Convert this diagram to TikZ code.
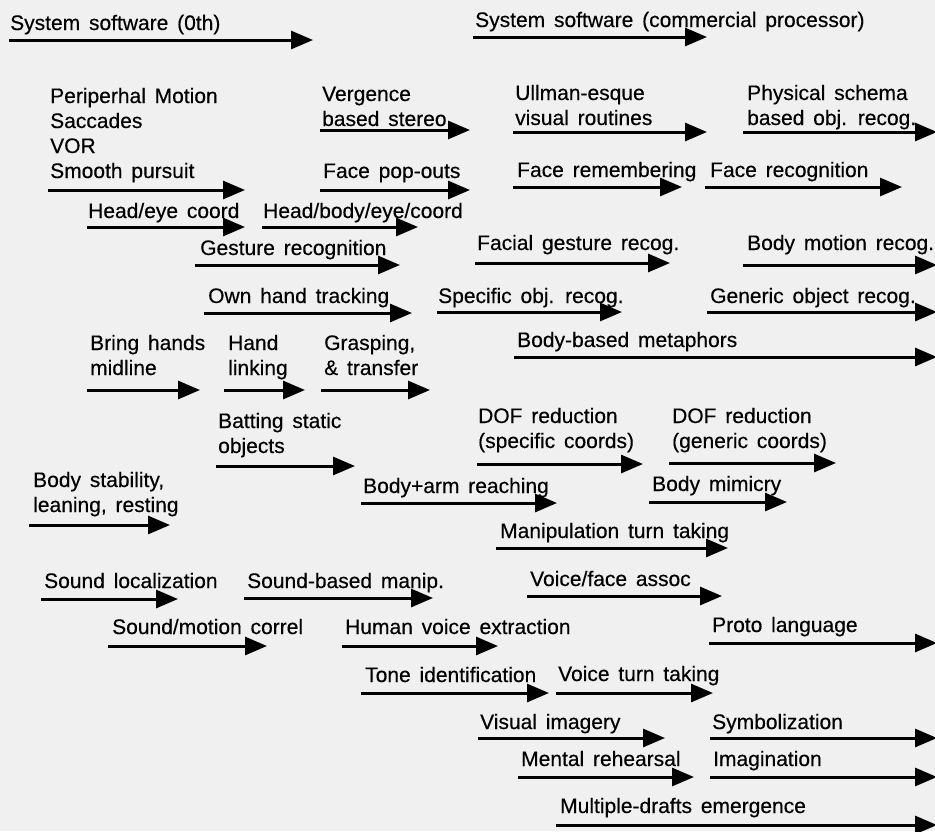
\documentclass[tikz,border=0pt]{standalone}
\usepackage{fontspec}
\setmainfont{Liberation Sans}
\usetikzlibrary{arrows.meta,positioning}
\newcommand{\lblfont}{\fontsize{21}{25}\selectfont\addfontfeatures{FakeBold=0.35}\spaceskip=0.42em plus 0.1em\relax}

\begin{document}
\begin{tikzpicture}[x=1pt, y=-1pt, >={Triangle[length=22pt,width=18pt]}]
    \tikzstyle{lbl} = [anchor=base west, inner sep=0pt, align=left, text=black, font=\lblfont]
    \tikzstyle{flow} = [->, line width=3pt, draw=black]

    % page and scanned paper
    \fill[black!6] (0,0) rectangle (935,831);
    \useasboundingbox (0,0) rectangle (935,831);

    % system software
    \node [lbl] (sys0) at (10,30) {System software (0th)};
    \coordinate (sys0-s) at (9,40); \coordinate (sys0-e) at (313,40);
    \node [lbl] (syscom) at (475,27) {System software (commercial processor)};
    \coordinate (syscom-s) at (473,37); \coordinate (syscom-e) at (707,37);

    % vision
    \node [lbl] (periph) at (50,178) {Periperhal Motion\\Saccades\\VOR\\Smooth pursuit};
    \coordinate (periph-s) at (48,190); \coordinate (periph-e) at (245,190);
    \node [lbl] (verg) at (322,126) {Vergence\\based stereo};
    \coordinate (verg-s) at (320,130); \coordinate (verg-e) at (470,130);
    \node [lbl] (ullman) at (515,125) {Ullman-esque\\visual routines};
    \coordinate (ullman-s) at (513,132); \coordinate (ullman-e) at (707,132);
    \node [lbl] (schema) at (747,125) {Physical schema\\based obj. recog.};
    \coordinate (schema-s) at (743,132); \coordinate (schema-e) at (937,132);
    \node [lbl] (popout) at (323,178) {Face pop-outs};
    \coordinate (popout-s) at (320,190); \coordinate (popout-e) at (470,190);
    \node [lbl] (facerem) at (517,177) {Face remembering};
    \coordinate (facerem-s) at (513,187); \coordinate (facerem-e) at (682,187);
    \node [lbl] (facerec) at (710,177) {Face recognition};
    \coordinate (facerec-s) at (705,187); \coordinate (facerec-e) at (902,187);
    \node [lbl] (headeye) at (88,218) {Head/eye coord};
    \coordinate (headeye-s) at (87,227); \coordinate (headeye-e) at (245,227);
    \node [lbl] (headbody) at (263,218) {Head/body/eye/coord};
    \coordinate (headbody-s) at (262,227); \coordinate (headbody-e) at (418,227);
    \node [lbl] (gesture) at (200,255) {Gesture recognition};
    \coordinate (gesture-s) at (195,265); \coordinate (gesture-e) at (400,265);
    \node [lbl] (facial) at (477,250) {Facial gesture recog.};
    \coordinate (facial-s) at (475,263); \coordinate (facial-e) at (670,263);
    \node [lbl] (bodymot) at (747,250) {Body motion recog.};
    \coordinate (bodymot-s) at (743,265); \coordinate (bodymot-e) at (937,265);
    \node [lbl] (ownhand) at (208,303) {Own hand tracking};
    \coordinate (ownhand-s) at (204,313); \coordinate (ownhand-e) at (412,313);
    \node [lbl] (specobj) at (438,303) {Specific obj. recog.};
    \coordinate (specobj-s) at (437,312); \coordinate (specobj-e) at (622,312);
    \node [lbl] (genobj) at (710,303) {Generic object recog.};
    \coordinate (genobj-s) at (707,312); \coordinate (genobj-e) at (937,312);

    % manipulation and body
    \node [lbl] (bring) at (90,375) {Bring hands\\midline};
    \coordinate (bring-s) at (87,390); \coordinate (bring-e) at (200,390);
    \node [lbl] (linking) at (228,375) {Hand\\linking};
    \coordinate (linking-s) at (224,390); \coordinate (linking-e) at (305,390);
    \node [lbl] (grasp) at (324,375) {Grasping,\\\& transfer};
    \coordinate (grasp-s) at (321,390); \coordinate (grasp-e) at (430,390);
    \node [lbl] (metaph) at (517,347) {Body-based metaphors};
    \coordinate (metaph-s) at (514,357); \coordinate (metaph-e) at (937,357);
    \node [lbl] (batting) at (218,453) {Batting static\\objects};
    \coordinate (batting-s) at (216,466); \coordinate (batting-e) at (355,466);
    \node [lbl] (dofspec) at (478,448) {DOF reduction\\(specific coords)};
    \coordinate (dofspec-s) at (477,464); \coordinate (dofspec-e) at (643,464);
    \node [lbl] (dofgen) at (672,448) {DOF reduction\\(generic coords)};
    \coordinate (dofgen-s) at (669,463); \coordinate (dofgen-e) at (836,463);
    \node [lbl] (stable) at (33,512) {Body stability,\\leaning, resting};
    \coordinate (stable-s) at (29,525); \coordinate (stable-e) at (170,525);
    \node [lbl] (reach) at (363,493) {Body+arm reaching};
    \coordinate (reach-s) at (361,503); \coordinate (reach-e) at (557,503);
    \node [lbl] (mimic) at (652,491) {Body mimicry};
    \coordinate (mimic-s) at (649,502); \coordinate (mimic-e) at (787,502);
    \node [lbl] (maniturn) at (500,538) {Manipulation turn taking};
    \coordinate (maniturn-s) at (496,548); \coordinate (maniturn-e) at (728,548);

    % sound and language
    \node [lbl] (soundloc) at (44,588) {Sound localization};
    \coordinate (soundloc-s) at (41,599); \coordinate (soundloc-e) at (178,599);
    \node [lbl] (soundman) at (247,588) {Sound-based manip.};
    \coordinate (soundman-s) at (244,598); \coordinate (soundman-e) at (433,598);
    \node [lbl] (voiceface) at (530,586) {Voice/face assoc};
    \coordinate (voiceface-s) at (527,596); \coordinate (voiceface-e) at (722,596);
    \node [lbl] (soundmot) at (112,634) {Sound/motion correl};
    \coordinate (soundmot-s) at (108,646); \coordinate (soundmot-e) at (267,646);
    \node [lbl] (voicex) at (345,634) {Human voice extraction};
    \coordinate (voicex-s) at (342,646); \coordinate (voicex-e) at (498,646);
    \node [lbl] (proto) at (712,632) {Proto language};
    \coordinate (proto-s) at (709,643); \coordinate (proto-e) at (937,643);
    \node [lbl] (tone) at (365,682) {Tone identification};
    \coordinate (tone-s) at (361,693); \coordinate (tone-e) at (549,693);
    \node [lbl] (voiceturn) at (558,681) {Voice turn taking};
    \coordinate (voiceturn-s) at (556,693); \coordinate (voiceturn-e) at (713,693);
    \node [lbl] (visimg) at (480,729) {Visual imagery};
    \coordinate (visimg-s) at (478,738); \coordinate (visimg-e) at (665,738);
    \node [lbl] (symbol) at (712,729) {Symbolization};
    \coordinate (symbol-s) at (710,738); \coordinate (symbol-e) at (937,738);
    \node [lbl] (mental) at (521,766) {Mental rehearsal};
    \coordinate (mental-s) at (518,777); \coordinate (mental-e) at (694,777);
    \node [lbl] (imagin) at (713,766) {Imagination};
    \coordinate (imagin-s) at (710,777); \coordinate (imagin-e) at (937,777);
    \node [lbl] (drafts) at (560,813) {Multiple-drafts emergence};
    \coordinate (drafts-s) at (556,825); \coordinate (drafts-e) at (937,825);

    \foreach \n in {sys0,syscom,periph,verg,ullman,schema,popout,facerem,facerec,
        headeye,headbody,gesture,facial,bodymot,ownhand,specobj,genobj,bring,linking,
        grasp,metaph,batting,dofspec,dofgen,stable,reach,mimic,maniturn,soundloc,
        soundman,voiceface,soundmot,voicex,proto,tone,voiceturn,visimg,symbol,mental,
        imagin,drafts}
        \draw [flow] (\n-s) -- (\n-e);
\end{tikzpicture}
\end{document}
